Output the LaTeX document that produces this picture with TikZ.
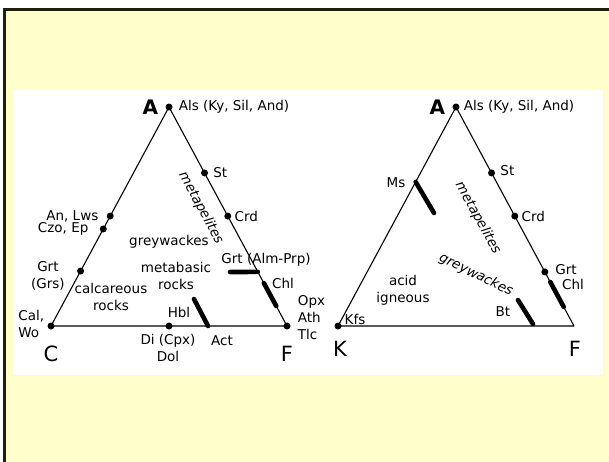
\documentclass[tikz,border=0pt]{standalone}
\usepackage{fontspec}
\setmainfont{DejaVu Sans}
\usetikzlibrary{calc,positioning}
\definecolor{paper}{HTML}{FFFFCC}
\definecolor{frame}{HTML}{202010}

\begin{document}
\begin{tikzpicture}[
  x=1pt, y=-1pt,
  edge/.style={draw, line width=1.1pt, line join=round},
  bar/.style={draw, line width=4.6pt, line cap=round},
  dot/.style={circle, fill=black, inner sep=0pt, minimum size=7pt},
  lbl/.style={font=\fontsize{13.5}{17}\selectfont, inner sep=0pt, align=center},
  apex/.style={font=\fontsize{20}{20}\selectfont\bfseries, inner sep=0pt},
  corner/.style={font=\fontsize{21}{21}\selectfont, inner sep=0pt},
  slant/.style={lbl, font=\fontsize{13.5}{17}\selectfont\itshape},
]
\clip (0,0) rectangle (609,461);
\draw[line width=2.6pt, draw=frame, fill=paper] (4.5,9.5) rectangle (640,490);
\fill[white] (13,90) rectangle (603,375);

% left diagram: A-C-F
\coordinate (A1) at (169,107);
\coordinate (C) at (51,326);
\coordinate (F1) at (287,326);
\draw[edge] (A1) -- (C) -- (F1) -- cycle;

\coordinate (alm0) at (230,272);
\coordinate (alm1) at ($(A1)!0.753!(F1)$);
\coordinate (chl0) at ($(A1)!0.804!(F1)$);
\coordinate (chl1) at ($(A1)!0.909!(F1)$);
\coordinate (hbl0) at (194,299);
\coordinate (hbl1) at (208,326);
\draw[bar] (alm0) -- (alm1);
\draw[bar] (chl0) -- (chl1);
\draw[bar] (hbl0) -- (hbl1);

\node[dot] (als1) at (A1) {};
\node[dot] (st1) at ($(A1)!0.301!(F1)$) {};
\node[dot] (crd1) at ($(A1)!0.498!(F1)$) {};
\node[dot] (an) at ($(C)!0.502!(A1)$) {};
\node[dot] (czo) at ($(C)!0.443!(A1)$) {};
\node[dot] (grs) at ($(C)!0.251!(A1)$) {};
\node[dot] (cal) at (C) {};
\node[dot] (di) at ($(C)!0.5!(F1)$) {};
\node[dot] (opx) at (F1) {};

\node[apex, left=7pt of als1] (a1) {A};
\node[lbl, right=6pt of als1] (als1l) {Als (Ky, Sil, And)};
\node[lbl, right=5pt of st1] (st1l) {St};
\node[lbl, right=3pt of crd1] (crd1l) {Crd};
\node[lbl, left=8pt of an] (anl) {An, Lws};
\node[lbl, left=11pt of czo] (czol) {Czo, Ep};
\node[lbl, left=12pt of grs, yshift=-5pt] (grsl) {Grt\\(Grs)};
\node[lbl, align=left, left=3pt of cal, yshift=2pt] (call) {Cal,\\Wo};
\node[lbl] (dil) at (168,348) {Di (Cpx)\\Dol};
\node[lbl] (actl) at (222,341) {Act};
\node[lbl] (hbll) at (179,312) {Hbl};
\node[lbl, align=left, right=7pt of opx, yshift=8pt] (opxl) {Opx\\Ath\\Tlc};
\node[lbl] (chl1l) at (283,283) {Chl};
\node[lbl] (alml) at (266,260) {Grt (Alm-Prp)};
\node[lbl] (gw1) at (169,242) {greywackes};
\node[lbl] (mb) at (176,276) {metabasic\\rocks};
\node[lbl] (calc) at (111,297) {calcareous\\rocks};
\node[slant, rotate=-62] (mp1) at (201,208) {metapelites};
\node[corner] (cl) at (51,354) {C};
\node[corner] (f1l) at (287,354) {F};

% right diagram: A-K-F
\coordinate (A2) at (456,107);
\coordinate (K) at (338,326);
\coordinate (F2) at (574,326);
\draw[edge] (A2) -- (K) -- (F2) -- cycle;

\coordinate (ms0) at ($(K)!0.658!(A2)$);
\coordinate (ms1) at (434,213);
\coordinate (bt0) at (518,300);
\coordinate (bt1) at (533,324);
\coordinate (chl2a) at ($(A2)!0.799!(F2)$);
\coordinate (chl2b) at ($(A2)!0.913!(F2)$);
\draw[bar] (ms0) -- (ms1);
\draw[bar] (bt0) -- (bt1);
\draw[bar] (chl2a) -- (chl2b);

\node[dot] (als2) at (A2) {};
\node[dot] (st2) at ($(A2)!0.301!(F2)$) {};
\node[dot] (crd2) at ($(A2)!0.498!(F2)$) {};
\node[dot] (grt2) at ($(A2)!0.753!(F2)$) {};
\node[dot] (kfs) at (K) {};

\node[apex, left=7pt of als2] (a2) {A};
\node[lbl, right=4pt of als2] (als2l) {Als (Ky, Sil, And)};
\node[lbl, right=5pt of st2, yshift=2pt] (st2l) {St};
\node[lbl, right=3pt of crd2] (crd2l) {Crd};
\node[lbl] (msl) at (396,183) {Ms};
\node[lbl] (grt2l) at (566,270) {Grt};
\node[lbl] (chl2l) at (573,284) {Chl};
\node[lbl] (kfsl) at (355,319) {Kfs};
\node[lbl] (btl) at (503,312) {Bt};
\node[lbl] (acid) at (403,290) {acid\\igneous};
\node[slant, rotate=-26] (gw2) at (476,275) {greywackes};
\node[slant, rotate=-61] (mp2) at (478,218) {metapelites};
\node[corner] (kl) at (340,349) {K};
\node[corner] (f2l) at (575,349) {F};
\end{tikzpicture}
\end{document}
